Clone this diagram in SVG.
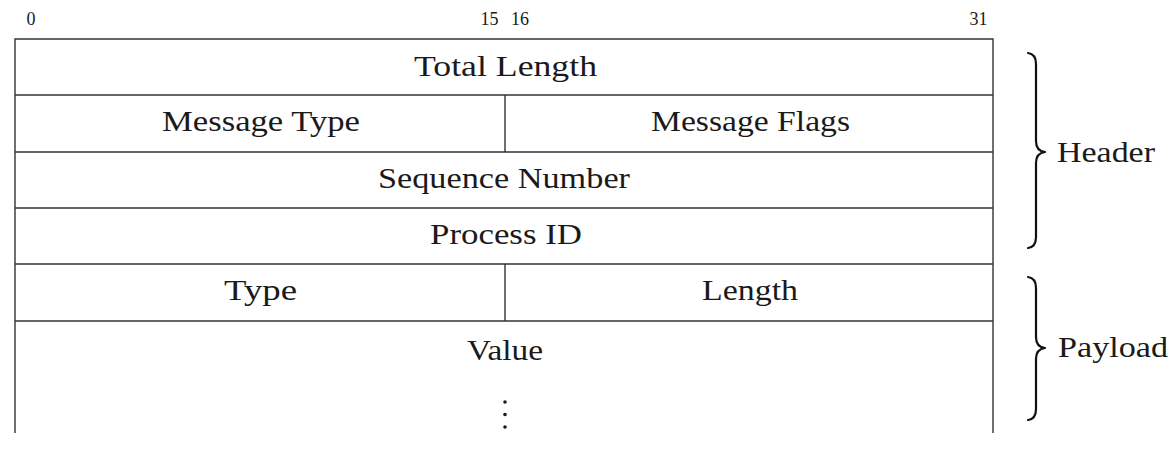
<svg xmlns="http://www.w3.org/2000/svg" width="1173" height="450" viewBox="0 0 1173 450">
<style>
.ln{stroke:#333;stroke-width:1.4;fill:none}
.t{font-family:"Liberation Serif","DejaVu Serif",serif;font-size:29px;fill:#1a1a1a;text-anchor:middle}
.n{font-family:"Liberation Serif","DejaVu Serif",serif;font-size:18px;fill:#1a1a1a;text-anchor:middle}
.lb{font-family:"Liberation Serif","DejaVu Serif",serif;font-size:29px;fill:#1a1a1a}
.br{stroke:#111;stroke-width:2.2;fill:none;stroke-linecap:round;stroke-linejoin:round}
</style>
<rect width="1173" height="450" fill="#fff"/>
<g id="bit-numbers">
<text class="n" x="31" y="25">0</text>
<text class="n" x="489.5" y="25">15</text>
<text class="n" x="520" y="25">16</text>
<text class="n" x="978.5" y="25">31</text>
</g>
<g id="frame">
<path class="ln" d="M15,433 V39 H993 V433"/>
<line class="ln" x1="15" y1="95" x2="993" y2="95"/>
<line class="ln" x1="15" y1="152" x2="993" y2="152"/>
<line class="ln" x1="15" y1="208" x2="993" y2="208"/>
<line class="ln" x1="15" y1="264" x2="993" y2="264"/>
<line class="ln" x1="15" y1="321" x2="993" y2="321"/>
<line class="ln" x1="505" y1="95" x2="505" y2="152"/>
<line class="ln" x1="505" y1="264" x2="505" y2="321"/>
</g>
<g id="total-length"><text class="t" x="505.5" y="76" textLength="183" lengthAdjust="spacingAndGlyphs">Total Length</text></g>
<g id="message-type"><text class="t" x="261" y="131" textLength="198" lengthAdjust="spacingAndGlyphs">Message Type</text></g>
<g id="message-flags"><text class="t" x="750.5" y="131" textLength="199" lengthAdjust="spacingAndGlyphs">Message Flags</text></g>
<g id="sequence-number"><text class="t" x="504" y="188" textLength="252" lengthAdjust="spacingAndGlyphs">Sequence Number</text></g>
<g id="process-id"><text class="t" x="506" y="244" textLength="152" lengthAdjust="spacingAndGlyphs">Process ID</text></g>
<g id="type"><text class="t" x="260.5" y="300" textLength="73" lengthAdjust="spacingAndGlyphs">Type</text></g>
<g id="length"><text class="t" x="750" y="300" textLength="96" lengthAdjust="spacingAndGlyphs">Length</text></g>
<g id="value">
<text class="t" x="505" y="360" textLength="76" lengthAdjust="spacingAndGlyphs">Value</text>
<circle cx="505" cy="402" r="1.8" fill="#1a1a1a"/>
<circle cx="505" cy="414.5" r="1.8" fill="#1a1a1a"/>
<circle cx="505" cy="427" r="1.8" fill="#1a1a1a"/>
</g>
<g id="header-brace">
<path class="br" d="M1028,53 Q1036,54 1036,64 L1036,141 Q1036,151 1045,152 Q1036,153 1036,163 L1036,237 Q1036,247 1028,248"/>
<text class="lb" x="1057" y="162" textLength="98" lengthAdjust="spacingAndGlyphs">Header</text>
</g>
<g id="payload-brace">
<path class="br" d="M1028,277 Q1036,278 1036,288 L1036,337 Q1036,347 1045,348 Q1036,349 1036,359 L1036,409 Q1036,419 1028,420"/>
<text class="lb" x="1058" y="357" textLength="110" lengthAdjust="spacingAndGlyphs">Payload</text>
</g>
</svg>
